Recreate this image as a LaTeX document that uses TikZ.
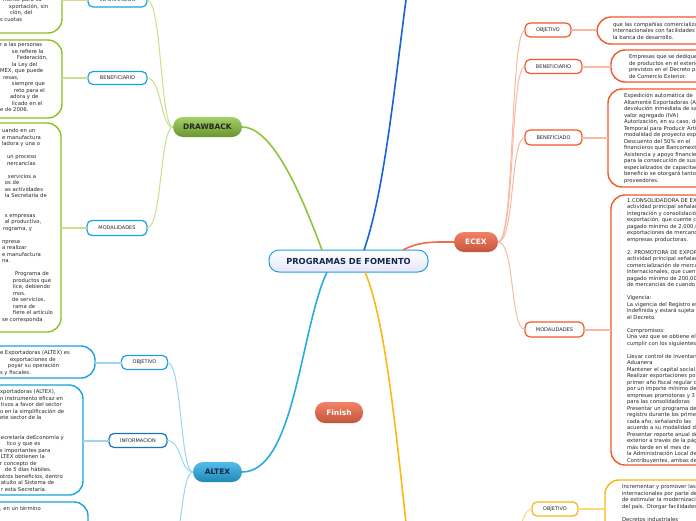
\documentclass[tikz,border=0pt]{standalone}
\usepackage{fontspec}
\setmainfont{DejaVu Sans}
\usetikzlibrary{calc}
\definecolor{txtgray}{HTML}{262626}
\definecolor{navy}{HTML}{14284B}
\definecolor{gMain}{HTML}{8DC63F}
\definecolor{gBox}{HTML}{8DC21F}
\definecolor{gLink}{HTML}{C6E08C}
\definecolor{bDark}{HTML}{1565D8}
\definecolor{aMain}{HTML}{29ABE2}
\definecolor{aBox}{HTML}{1BA1E2}
\definecolor{aBox2}{HTML}{1A72B8}
\definecolor{aLink}{HTML}{9BD7F3}
\definecolor{eMain}{HTML}{F26B4A}
\definecolor{eBox}{HTML}{F0592A}
\definecolor{eLink}{HTML}{F9B9A3}
\definecolor{yMain}{HTML}{FDB813}
\definecolor{yBox}{HTML}{FBB514}
\definecolor{yLink}{HTML}{FFD978}
\newcommand{\myind}[1]{\hspace*{#1pt}}
\tikzset{
  every node/.style={inner sep=0pt, outer sep=0pt},
  mainbox/.style={rounded corners=10pt, minimum height=20pt, font=\fontsize{7.5}{9}\selectfont\bfseries},
  subbox/.style={draw, rounded corners=5pt, fill=white, line width=1.2pt, minimum height=14pt, font=\fontsize{5}{6}\selectfont, text=txtgray},
  tbox/.style={draw, rounded corners=14pt, fill=white, line width=1.4pt},
  txt/.style={align=left, anchor=north west, font=\fontsize{5.3}{6.5}\selectfont, text=txtgray},
  link/.style={line width=2pt},
  branch/.style={line width=1.6pt},
  twig/.style={line width=1pt},
}
\begin{document}
\begin{tikzpicture}[x=1pt,y=-1pt]
\useasboundingbox (0,0) rectangle (696,520);
\clip (0,0) rectangle (696,520);
\fill[white] (0,0) rectangle (696,520);

% ---------- main nodes ----------
\node[mainbox, draw=aBox, line width=1pt, top color=white, bottom color=gray!35!blue!12, minimum width=159pt, minimum height=22pt, text=navy, font=\fontsize{8.3}{10}\selectfont\bfseries] (c) at (348.5,261) {PROGRAMAS DE FOMENTO};
\node[mainbox, top color=gMain!80!white, bottom color=gMain!75!black, minimum width=69pt, text=black!85] (dr) at (207.5,127) {DRAWBACK};
\node[mainbox, top color=eMain!85!white, bottom color=eMain!80!black, minimum width=44pt, text=white] (ecex) at (476,242) {ECEX};
\node[mainbox, top color=aMain!80!white, bottom color=aMain!80!black, minimum width=49pt, text=navy] (altex) at (217.5,472) {ALTEX};
\node[mainbox, top color=eMain!85!white, bottom color=eMain!80!black, minimum width=48pt, minimum height=21pt, text=white] (fin) at (339,412.5) {Finish};
\coordinate (topend) at (408,-15);
\coordinate (yend) at (411,570);
\coordinate (aThird) at (167,560);
\coordinate (yParent) at (508,570);

% ---------- main branches ----------
\draw[branch, gMain] ([xshift=-26.5pt]c.north) .. controls (305,205) and (275,127) .. (dr.east);
\draw[branch, bDark] ([xshift=15.5pt]c.north) .. controls (385,190) and (395,80) .. (topend);
\draw[branch, eMain] ([xshift=54.5pt]c.north) .. controls (420,241) and (435,242) .. (ecex.west);
\draw[branch, aMain] ([xshift=-21.5pt]c.south) .. controls (300,330) and (295,472) .. (altex.east);
\draw[branch, yMain] ([xshift=16.5pt]c.south) .. controls (385,320) and (395,420) .. (yend);

% ---------- DRAWBACK ----------
\node[subbox, draw=aBox, minimum width=59pt] (dInfo) at (117.5,0) {INFORMACION};
\node[subbox, draw=aBox, minimum width=59pt, minimum height=13pt] (dBen) at (117.5,78) {BENEFICIARIO};
\node[subbox, draw=aBox, minimum width=60pt, minimum height=15pt] (dMod) at (117,228) {MODALIDADES};
\draw[twig, gLink] (dr.west) .. controls (160,127) and (162,0) .. (dInfo.east);
\draw[twig, gLink] (dr.west) .. controls (160,127) and (162,78) .. (dBen.east);
\draw[twig, gLink] (dr.west) .. controls (160,127) and (162,228) .. (dMod.east);

\node[tbox, draw=gBox, minimum width=162pt, minimum height=73pt] (dInfoT) at (-19,-3.5) {};
\node[tbox, draw=gBox, minimum width=162pt, minimum height=78pt] (dBenT) at (-19,79) {};
\node[tbox, draw=gBox, minimum width=161pt, minimum height=209pt] (dModT) at (-19.5,227.5) {};
\draw[link, gLink] (dInfo.west) -- (dInfo.west -| dInfoT.east);
\draw[link, gLink] (dBen.west) -- (dBen.west -| dBenT.east);
\draw[link, gLink] (dMod.west) -- (dMod.west -| dModT.east);

\node[txt] (dInfoX) at (0,-2) {\myind{3}mente para su\\ \myind{9}xportación, sin\\ \myind{10}ción, del\\ s cuotas};
\node[txt] (dBenX) at (0,42.5) {r a las personas\\ \myind{12}se refiere la\\ \myind{17}Federación,\\ \myind{12}la Ley del\\ MEX, que puede\\ \myind{3}resas,\\ \myind{12}siempre que\\ \myind{14}reto para el\\ \myind{10}adora y de\\ \myind{12}licado en el\\ e de 2006.};
\node[txt] (dModX) at (0,128.5) {\myind{2}uando en un\\ \myind{2}e manufactura\\ \myind{2}ladora y una o\\ \mbox{}\\ \myind{7}un proceso\\ \myind{7}nercancías\\ \mbox{}\\ \myind{8}servicios a\\ \myind{5}os de\\ \myind{5}as actividades\\ \myind{5}la Secretaría de\\ \mbox{}\\ \mbox{}\\ \myind{5}s empresas\\ \myind{5}al productivo,\\ \myind{3}rograma, y\\ \mbox{}\\ \myind{2}npresa\\ \myind{2}a realizar\\ \myind{2}e manufactura\\ \myind{2}na.\\ \mbox{}\\ \myind{15}Programa de\\ \myind{13}productos que\\ \myind{13}lice, debiendo\\ \myind{13}mos.\\ \myind{12}de servicios,\\ \myind{13}rama de\\ \myind{13}fiere el artículo\\ \myind{2}se corresponda};

% ---------- ALTEX ----------
\node[subbox, draw=aBox, minimum width=46pt] (aObj) at (144.5,362.5) {OBJETIVO};
\node[subbox, draw=aBox2, minimum width=58pt] (aInfo) at (138,440.5) {INFORMACION};
\draw[twig, aLink] (altex.west) .. controls (180,472) and (182,362.5) .. (aObj.east);
\draw[twig, aLink] (altex.west) .. controls (180,472) and (182,440.5) .. (aInfo.east);
\draw[twig, aLink] (altex.west) .. controls (180,472) and (182,560) .. (aThird);

\node[tbox, draw=aBox, minimum width=195pt, minimum height=32pt] (aObjT) at (-2.5,362) {};
\node[tbox, draw=aBox, minimum width=183pt, minimum height=110pt] (aInfoT) at (-8.5,440) {};
\node[tbox, draw=aBox, minimum width=188pt, minimum height=98pt] (aThrT) at (-6,551) {};
\draw[link, aLink] (aObj.west) -- (aObj.west -| aObjT.east);
\draw[link, aLink] (aInfo.west) -- (aInfo.west -| aInfoT.east);

\node[txt] (aObjX) at (0,350.5) {e Exportadoras (ALTEX) es\\ \myind{10}exportaciones de\\ \myind{8}poyar su operación\\ s y fiscales.};
\node[txt] (aInfoX) at (0,389.5) {xportadoras (ALTEX),\\ n instrumento eficaz en\\ \myind{1}tivos a favor del sector\\ o en la simplificación de\\ ete sector de la\\ \mbox{}\\ \mbox{}\\ \myind{1}ecretaría deEconomía y\\ \myind{7}lico y que es\\ s importantes para\\ \myind{1}LTEX obtienen la\\ r concepto de\\ \myind{5}de 5 días hábiles.\\ otros beneficios, dentro\\ \myind{1}atuito al Sistema de\\ \myind{1}r esta Secretaría.};
\node[txt] (aThrX) at (0,506.5) {, en un término};

% ---------- ECEX ----------
\node[subbox, draw=eBox, minimum width=46pt] (eObj) at (548,30) {OBJETIVO};
\node[subbox, draw=eBox, minimum width=57pt] (eBen) at (553.5,66.5) {BENEFICIARIO};
\node[subbox, draw=eBox, minimum width=57pt, minimum height=15pt] (eBdo) at (553.5,137.5) {BENEFICIADO};
\node[subbox, draw=eBox, minimum width=59pt, minimum height=15pt] (eMod) at (554.5,329.5) {MODALIDADES};
\draw[twig, eLink] (ecex.east) .. controls (515,242) and (510,30) .. (eObj.west);
\draw[twig, eLink] (ecex.east) .. controls (515,242) and (510,66.5) .. (eBen.west);
\draw[twig, eLink] (ecex.east) .. controls (515,242) and (510,137.5) .. (eBdo.west);
\draw[twig, eLink] (ecex.east) .. controls (515,242) and (510,329.5) .. (eMod.west);

\node[tbox, draw=eBox, minimum width=203pt, minimum height=27pt] (eObjT) at (698.5,30.5) {};
\node[tbox, draw=eBox, minimum width=189pt, minimum height=32pt] (eBenT) at (705.5,66) {};
\node[tbox, draw=eBox, minimum width=192pt, minimum height=98pt] (eBdoT) at (704,138) {};
\node[tbox, draw=eBox, minimum width=189pt, minimum height=270pt] (eModT) at (705.5,330) {};
\draw[link, eLink] (eObj.east) -- (eObj.east -| eObjT.west);
\draw[link, eLink] (eBen.east) -- (eBen.east -| eBenT.west);
\draw[link, eLink] (eBdo.east) -- (eBdo.east -| eBdoT.west);
\draw[link, eLink] (eMod.east) -- (eMod.east -| eModT.west);

\node[txt] (eObjX) at (613,22) {que las compañías comercializadoras\\ internacionales con facilidades de\\ la banca de desarrollo.};
\node[txt] (eBenX) at (629,54.5) {Empresas que se dediquen\\ de productos en el exterior\\ previstos en el Decreto para\\ de Comercio Exterior.};
\node[txt] (eBdoX) at (624,93.5) {Expedición automática de\\ Altamente Exportadoras (ALTEX)\\ devolución inmediata de saldos\\ valor agregado (IVA)\\ Autorización, en su caso, de\\ Temporal para Producir Artículos\\ modalidad de proyecto específico\\ Descuento del 50\% en el\\ financieros que Bancomext\\ Asistencia y apoyo financiero\\ para la consecución de sus\\ especializados de capacitación\\ beneficio se otorgará tanto\\ proveedores.};
\node[txt] (eModX) at (627,197.5) {1.CONSOLIDADORA DE EXPORTACIÓN\\ actividad principal señalada\\ integración y consolidación\\ exportación, que cuente con\\ pagado mínimo de 2,000,000\\ exportaciones de mercancías\\ empresas productoras.\\ \mbox{}\\ 2. PROMOTORA DE EXPORTACIÓN\\ actividad principal señalada\\ comercialización de mercancías\\ internacionales, que cuente\\ pagado mínimo de 200,000\\ de mercancías de cuando menos\\ \mbox{}\\ Vigencia:\\ La vigencia del Registro es\\ indefinida y estará sujeta a\\ el Decreto.\\ \mbox{}\\ Compromisos:\\ Una vez que se obtiene el\\ cumplir con los siguientes\\ \mbox{}\\ Llevar control de inventarios\\ Aduanera\\ Mantener el capital social\\ Realizar exportaciones por\\ primer año fiscal regular de\\ por un importe mínimo de\\ empresas promotoras y 3\\ para las consolidadoras\\ Presentar un programa de\\ registro durante los primeros\\ cada año, señalando las\\ acuerdo a su modalidad de\\ Presentar reporte anual de\\ exterior a través de la página\\ más tarde en el mes de\\ la Administración Local de\\ Contribuyentes, ambas de};

% ---------- yellow branch ----------
\node[subbox, draw=yBox, minimum width=46pt] (yObj) at (555,509) {OBJETIVO};
\draw[twig, yLink] (yObj.west) .. controls (522,509) and (520,535) .. (yParent);
\node[tbox, draw=yBox, minimum width=195pt, minimum height=120pt] (yObjT) at (702.5,540) {};
\draw[link, yLink] (yObj.east) -- (yObj.east -| yObjT.west);
\node[txt] (yObjX) at (622,484.5) {Incrementar y promover las\\ internacionales por parte de\\ de estimular la modernización\\ del país. Otorgar facilidades\\ \mbox{}\\ Decretos industriales};
\end{tikzpicture}
\end{document}
